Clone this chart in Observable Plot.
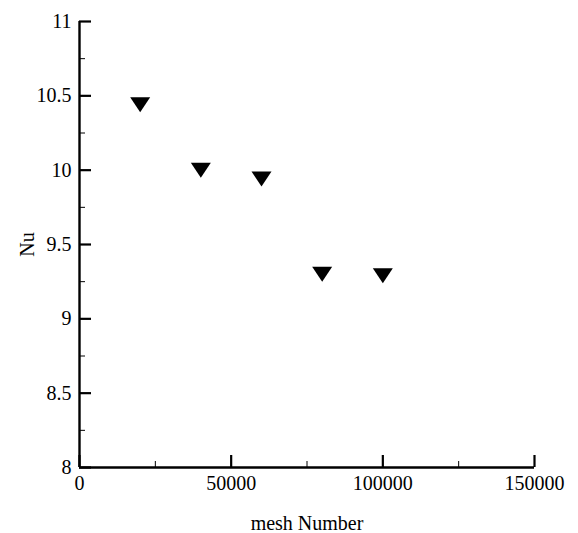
<!DOCTYPE html>
<html>
<head>
<meta charset="utf-8">
<script src="https://cdn.jsdelivr.net/npm/d3@7"></script>
<script src="https://cdn.jsdelivr.net/npm/@observablehq/plot@0.6"></script>
<style>
  html, body { margin: 0; padding: 0; background: #fff; }
</style>
</head>
<body>
<div id="chart"></div>
<script>
const meshNumber = [20000, 40000, 60000, 80000, 100000];
const nu = [10.44, 10.0, 9.94, 9.30, 9.29];
const xMajorTicks = [0, 50000, 100000, 150000];
const xMinorTicks = [25000, 75000, 125000];
const yMajorTicks = [8, 8.5, 9, 9.5, 10, 10.5, 11];
const yMinorTicks = [8.25, 8.75, 9.25, 9.75, 10.25, 10.75];

const data = meshNumber.map((m, i) => ({mesh: m, nu: nu[i]}));

const invTriangle = {
  draw(context, size) {
    const r = Math.sqrt(size / Math.PI);
    const h = 0.75 * r;
    context.moveTo(-r, -h);
    context.lineTo(r, -h);
    context.lineTo(0, h);
    context.closePath();
  }
};

const serif = "'Liberation Serif', 'Times New Roman', serif";

const chart = Plot.plot({
  width: 578,
  height: 533,
  marginLeft: 79,
  marginRight: 44,
  marginTop: 21,
  marginBottom: 66,
  style: {fontFamily: serif, fontSize: "20px", color: "#000", background: "#fff"},
  x: {domain: [0, 150000]},
  y: {domain: [8, 11]},
  marks: [
    Plot.axisX({ticks: xMinorTicks, tickSize: -6, strokeWidth: 1, text: null, label: null}),
    Plot.axisX({ticks: xMajorTicks, tickSize: -12, strokeWidth: 2.2, text: null, label: null}),
    Plot.axisX({ticks: xMajorTicks, tickSize: 0, tickPadding: 8, tickFormat: d => String(d),
      fontFamily: serif, fontSize: 20,
      label: "mesh Number", labelAnchor: "center", labelArrow: "none", labelOffset: 62}),
    Plot.axisY({ticks: yMinorTicks, tickSize: -6, strokeWidth: 1, text: null, label: null}),
    Plot.axisY({ticks: yMajorTicks, tickSize: -12, strokeWidth: 2.2, text: null, label: null}),
    Plot.axisY({ticks: yMajorTicks, tickSize: 0, tickPadding: 8, tickFormat: d => String(d),
      fontFamily: serif, fontSize: 20,
      label: "Nu", labelAnchor: "center", labelArrow: "none", labelOffset: 60}),
    Plot.ruleX([0], {strokeWidth: 2.4}),
    Plot.ruleY([8], {strokeWidth: 2.4}),
    Plot.dot(data, {x: "mesh", y: "nu", symbol: invTriangle, r: 10, fill: "#000", stroke: null})
  ]
});
chart.querySelectorAll("text").forEach(t => t.setAttribute("font-family", serif));
document.getElementById("chart").appendChild(chart);
</script>
</body>
</html>
